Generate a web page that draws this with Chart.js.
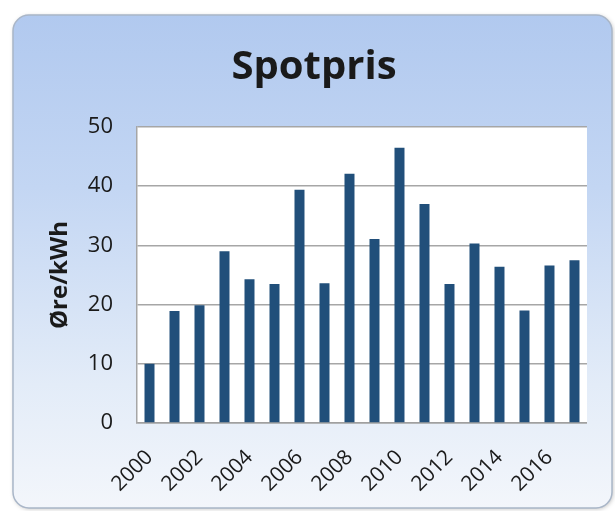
<!DOCTYPE html>
<html>
<head>
<meta charset="utf-8">
<script src="https://cdn.jsdelivr.net/npm/chart.js@4/dist/chart.umd.min.js"></script>
<style>
html,body{margin:0;padding:0;background:#fff;}
#wrap{width:615px;height:511px;}
</style>
</head>
<body>
<div id="wrap"><canvas id="c" width="615" height="511"></canvas></div>
<script>
const years = ['2000','2001','2002','2003','2004','2005','2006','2007','2008','2009','2010','2011','2012','2013','2014','2015','2016','2017'];
const spotpris = [10, 18.9, 19.9, 29.0, 24.3, 23.5, 39.4, 23.6, 42.1, 31.1, 46.5, 37.0, 23.5, 30.3, 26.4, 19.0, 26.6, 27.5];
const yTicks = [0, 10, 20, 30, 40, 50];
const chartTitle = 'Spotpris';
const yTitle = 'Øre/kWh';

const cardPlugin = {
  id: 'card',
  beforeDraw(chart) {
    const ctx = chart.ctx;
    const x = 13, y = 15, w = 599, h = 493, r = 16;
    ctx.save();
    ctx.fillStyle = '#ffffff';
    ctx.fillRect(0, 0, chart.width, chart.height);
    ctx.shadowColor = 'rgba(0,0,0,0.25)';
    ctx.shadowBlur = 4;
    ctx.shadowOffsetX = 1;
    ctx.shadowOffsetY = 1;
    const g = ctx.createLinearGradient(0, y, 0, y + h);
    g.addColorStop(0, '#b1c9ef');
    g.addColorStop(0.35, '#c3d6f3');
    g.addColorStop(0.75, '#e3ecf8');
    g.addColorStop(1, '#f3f6fb');
    ctx.beginPath();
    ctx.roundRect(x, y, w, h, r);
    ctx.fillStyle = g;
    ctx.fill();
    ctx.shadowColor = 'transparent';
    ctx.lineWidth = 1.5;
    ctx.strokeStyle = '#a9b6c8';
    ctx.stroke();
    const a = chart.chartArea;
    ctx.fillStyle = '#ffffff';
    ctx.fillRect(a.left, a.top, a.right - a.left, a.bottom - a.top);
    ctx.restore();
  }
};

new Chart(document.getElementById('c'), {
  type: 'bar',
  data: {
    labels: years,
    datasets: [{
      data: spotpris,
      backgroundColor: '#214f7a',
      borderWidth: 0,
      barPercentage: 0.4,
      categoryPercentage: 1.0
    }]
  },
  plugins: [cardPlugin],
  options: {
    responsive: false,
    animation: false,
    devicePixelRatio: 1,
    layout: { padding: { top: 30, left: 38, right: 25, bottom: 0 } },
    plugins: {
      legend: { display: false },
      tooltip: { enabled: false },
      title: {
        display: true,
        text: chartTitle,
        color: '#1a1a1a',
        font: { family: 'Open Sans', size: 40, weight: 'bold', lineHeight: 1.2 },
        padding: { top: 14, bottom: 35 }
      }
    },
    scales: {
      x: {
        grid: { display: false, drawTicks: false },
        border: { display: true, color: '#a0a0a0', width: 1.5 },
        ticks: {
          autoSkip: false,
          maxRotation: 45,
          minRotation: 45,
          padding: 22,
          color: '#1a1a1a',
          font: { family: 'Open Sans', size: 21 },
          callback: function(v, i) { return i % 2 === 0 ? years[i] : ''; }
        },
        afterFit(scale) { scale.height = 88; }
      },
      y: {
        min: 0,
        max: 50,
        afterBuildTicks(scale) { scale.ticks = yTicks.map(v => ({ value: v })); },
        grid: { color: '#a6a6a6', lineWidth: 1.5, drawTicks: false },
        border: { display: true, color: '#a6a6a6', width: 1.5 },
        ticks: {
          padding: 24,
          color: '#1a1a1a',
          font: { family: 'Open Sans', size: 22 }
        },
        title: {
          display: true,
          text: yTitle,
          color: '#1a1a1a',
          font: { family: 'Open Sans', size: 24, weight: 'bold', lineHeight: 1.2 },
          padding: { top: 8, bottom: 0 }
        },
        afterFit(scale) { scale.width = 99; }
      }
    }
  }
});
</script>
</body>
</html>
